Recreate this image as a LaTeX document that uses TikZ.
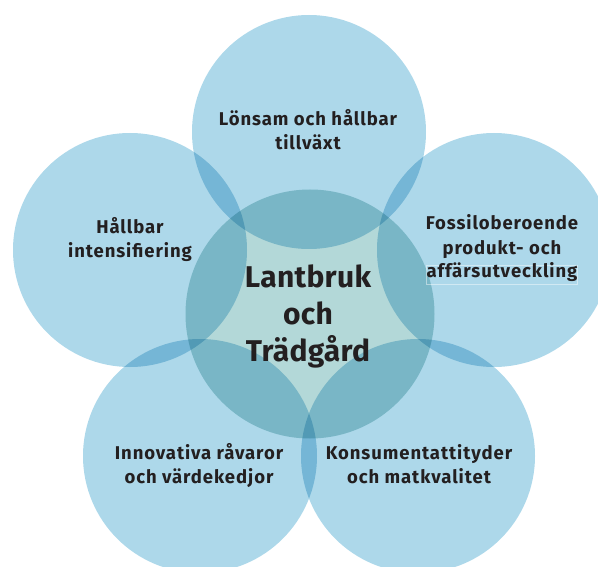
\documentclass[tikz,border=0pt]{standalone}
\usepackage{fontspec}
\setmainfont{Fira Sans}
\newfontfamily\labfont[LetterSpace=5]{Fira Sans}
\newfontfamily\bigfont[LetterSpace=1]{Fira Sans}
\definecolor{outerblue}{RGB}{173,216,234}
\definecolor{centerteal}{RGB}{179,216,216}
\definecolor{txt}{RGB}{35,31,32}
\tikzset{
  outer/.style={circle, fill=outerblue, minimum size=234pt, inner sep=0pt},
  inner/.style={circle, fill=centerteal, minimum size=249pt, inner sep=0pt},
  lab/.style={text=txt, align=center, font=\labfont\bfseries\fontsize{18.5}{24}\selectfont, anchor=base, inner sep=0pt},
  big/.style={text=txt, align=center, font=\bigfont\bfseries\fontsize{30}{37}\selectfont, anchor=base, inner sep=0pt}
}
\begin{document}
\begin{tikzpicture}[x=1pt,y=-1pt]
\useasboundingbox (0,0) rectangle (598,567);
\begin{scope}[blend group=multiply]
\node[outer] (ctop) at (309,132) {};
\node[outer] (cleft) at (130,250) {};
\node[outer] (cright) at (494,250) {};
\node[outer] (cbl) at (200,456) {};
\node[outer] (cbr) at (418,456) {};
\node[inner] (cmid) at (310,314) {};
\end{scope}
\draw[white, opacity=0.45, line width=0.6pt] (426,265) rectangle (577,284);
\node[lab] (ttop) at (308,150) {Lönsam och hållbar\\tillväxt};
\node[lab] (tleft) at (130,258) {Hållbar\\intensifiering};
\node[lab] (tright) at (502,278) {Fossiloberoende\\produkt- och\\affärsutveckling};
\node[lab] (tbl) at (199,483) {Innovativa råvaror\\och värdekedjor};
\node[lab] (tbr) at (419,483) {Konsumentattityder\\och matkvalitet};
\node[big] (tmid) at (308,362) {Lantbruk\\och\\Trädgård};
\end{tikzpicture}
\end{document}
